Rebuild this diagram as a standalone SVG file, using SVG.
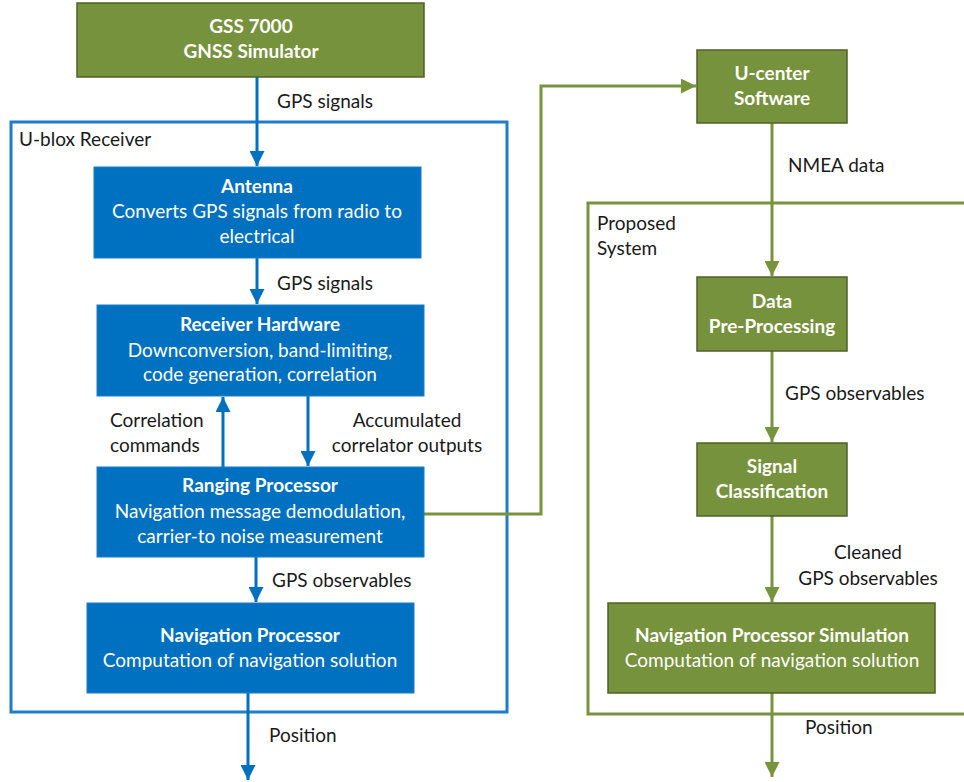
<svg xmlns="http://www.w3.org/2000/svg" width="964" height="782" viewBox="0 0 964 782">
<defs>
<style>
.t{font-family:Lato,"Liberation Sans",sans-serif;font-size:19px;fill:#1a1a1a}
.w{font-family:Lato,"Liberation Sans",sans-serif;font-size:19px;fill:#ffffff;text-anchor:middle}
.b{font-weight:bold}
.gbox{fill:#76923C;stroke:#4F6128;stroke-width:1.5}
.bbox{fill:#0070C0;stroke:#1F7CC8;stroke-width:1}
.bl{stroke:#0070C0;stroke-width:3;fill:none}
.gl{stroke:#77933C;stroke-width:3;fill:none}
</style>
<marker id="ab" viewBox="0 0 10 10" refX="10" refY="5" markerWidth="5" markerHeight="5" markerUnits="strokeWidth" orient="auto"><path d="M0,0L10,5L0,10z" fill="#0070C0"/></marker>
<marker id="ag" viewBox="0 0 10 10" refX="10" refY="5" markerWidth="5" markerHeight="5" markerUnits="strokeWidth" orient="auto"><path d="M0,0L10,5L0,10z" fill="#77933C"/></marker>
</defs>
<rect width="964" height="782" fill="#ffffff"/>

<g id="ublox-receiver">
<rect x="11" y="122" width="496" height="590" fill="none" stroke="#1F7CC8" stroke-width="3"/>
<text class="t" x="19" y="146">U-blox Receiver</text>
</g>
<g id="proposed-system">
<rect x="588" y="203" width="390" height="511" fill="none" stroke="#77933C" stroke-width="3"/>
<text class="t" x="597" y="230">Proposed</text>
<text class="t" x="597" y="255">System</text>
</g>

<g id="connectors">
<line class="bl" x1="257" y1="77" x2="257" y2="166" marker-end="url(#ab)"/>
<line class="bl" x1="257" y1="258" x2="257" y2="304" marker-end="url(#ab)"/>
<line class="bl" x1="223" y1="467" x2="223" y2="397" marker-end="url(#ab)"/>
<line class="bl" x1="308" y1="396" x2="308" y2="466" marker-end="url(#ab)"/>
<line class="bl" x1="256" y1="557" x2="256" y2="602" marker-end="url(#ab)"/>
<line class="bl" x1="248" y1="693" x2="248" y2="780" marker-end="url(#ab)"/>
<polyline class="gl" points="424,514 541,514 541,86 696,86" marker-end="url(#ag)"/>
<line class="gl" x1="772" y1="123" x2="772" y2="276" marker-end="url(#ag)"/>
<line class="gl" x1="772" y1="351" x2="772" y2="442" marker-end="url(#ag)"/>
<line class="gl" x1="772" y1="516" x2="772" y2="602" marker-end="url(#ag)"/>
<line class="gl" x1="772" y1="693" x2="772" y2="777" marker-end="url(#ag)"/>
<text class="t" x="277" y="108">GPS signals</text>
<text class="t" x="277" y="290">GPS signals</text>
<text class="t" x="110" y="427">Correlation</text>
<text class="t" x="110" y="452">commands</text>
<text class="t" x="407" y="427" text-anchor="middle">Accumulated</text>
<text class="t" x="407" y="452" text-anchor="middle">correlator outputs</text>
<text class="t" x="272" y="587">GPS observables</text>
<text class="t" x="269" y="742">Position</text>
<text class="t" x="788" y="172">NMEA data</text>
<text class="t" x="785" y="400">GPS observables</text>
<text class="t" x="868" y="559" text-anchor="middle">Cleaned</text>
<text class="t" x="868" y="585" text-anchor="middle">GPS observables</text>
<text class="t" x="805" y="734">Position</text>
</g>

<g id="gss7000">
<rect class="gbox" x="77" y="3" width="347" height="74"/>
<text class="w b" x="251" y="33">GSS 7000</text>
<text class="w b" x="251" y="58">GNSS Simulator</text>
</g>
<g id="antenna">
<rect class="bbox" x="94" y="167" width="327" height="91"/>
<text class="w b" x="257" y="193">Antenna</text>
<text class="w" x="257" y="218">Converts GPS signals from radio to</text>
<text class="w" x="257" y="243">electrical</text>
</g>
<g id="receiver-hardware">
<rect class="bbox" x="97" y="305" width="327" height="91"/>
<text class="w b" x="260" y="331">Receiver Hardware</text>
<text class="w" x="260" y="357">Downconversion, band-limiting,</text>
<text class="w" x="260" y="381">code generation, correlation</text>
</g>
<g id="ranging-processor">
<rect class="bbox" x="97" y="467" width="327" height="90"/>
<text class="w b" x="260" y="492">Ranging Processor</text>
<text class="w" x="260" y="518">Navigation message demodulation,</text>
<text class="w" x="260" y="543">carrier-to noise measurement</text>
</g>
<g id="navigation-processor">
<rect class="bbox" x="87" y="603" width="327" height="90"/>
<text class="w b" x="250" y="642">Navigation Processor</text>
<text class="w" x="250" y="667">Computation of navigation solution</text>
</g>
<g id="u-center">
<rect class="gbox" x="697" y="50" width="150" height="73"/>
<text class="w b" x="772" y="80">U-center</text>
<text class="w b" x="772" y="105">Software</text>
</g>
<g id="data-preprocessing">
<rect class="gbox" x="697" y="277" width="150" height="74"/>
<text class="w b" x="772" y="308">Data</text>
<text class="w b" x="772" y="333">Pre-Processing</text>
</g>
<g id="signal-classification">
<rect class="gbox" x="697" y="443" width="150" height="73"/>
<text class="w b" x="772" y="473">Signal</text>
<text class="w b" x="772" y="498">Classification</text>
</g>
<g id="nav-processor-simulation">
<rect class="gbox" x="608" y="603" width="327" height="90"/>
<text class="w b" x="772" y="642">Navigation Processor Simulation</text>
<text class="w" x="772" y="667">Computation of navigation solution</text>
</g>
</svg>
